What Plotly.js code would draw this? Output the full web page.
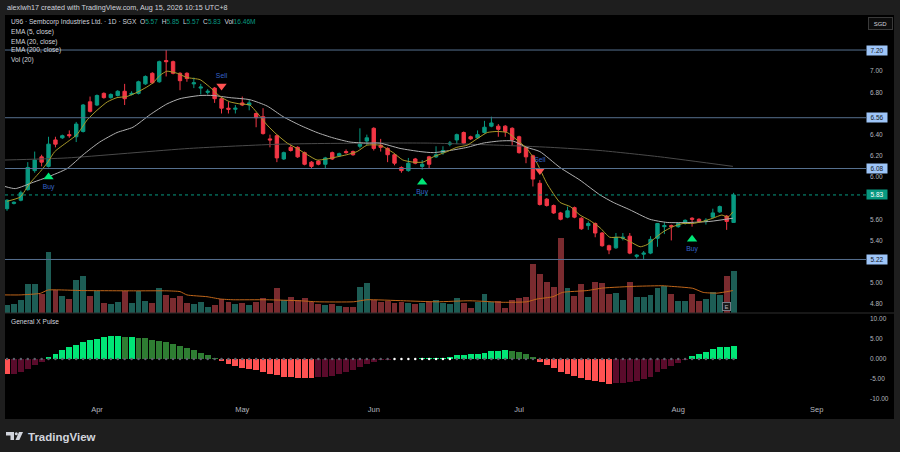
<!DOCTYPE html>
<html><head><meta charset="utf-8">
<script src="https://cdn.plot.ly/plotly-3.0.1.min.js"></script>
<style>html,body{margin:0;padding:0;background:#1e1e1e;}#chart{width:900px;height:452px;}</style>
</head><body><div id="chart"></div>
<script>
// ---------- DATA ----------
const monthTicks = [13,34,53,74,97,117];
const monthLabels = ['Apr','May','Jun','Jul','Aug','Sep'];
const priceTicks = [4.8,5.0,5.4,5.6,6.0,6.2,6.4,6.8,7.0];
const priceLabels = ['4.80','5.00','5.40','5.60','6.00','6.20','6.40','6.80','7.00'];
const pulseTicks = [10,5,0,-5,-10];
const pulseLabels = ['10.00','5.00','0.000','-5.00','-10.00'];
const levels = [7.20,6.56,6.08,5.22];
const levelLabels = ['7.20','6.56','6.08','5.22'];

const openP = [5.70,5.75,5.78,5.88,6.06,6.19,6.10,6.35,6.37,6.40,
6.38,6.43,6.71,6.68,6.79,6.75,6.77,6.81,6.78,6.79,
6.88,6.98,6.90,7.10,7.09,6.98,6.98,6.88,6.84,6.80,
6.84,6.74,6.65,6.64,6.70,6.68,6.60,6.57,6.36,6.39,
6.17,6.28,6.28,6.23,6.14,6.15,6.12,6.23,6.20,6.24,
6.24,6.29,6.34,6.46,6.30,6.27,6.21,6.09,6.06,6.17,
6.10,6.19,6.19,6.23,6.31,6.35,6.42,6.38,6.37,6.42,
6.48,6.48,6.48,6.46,6.38,6.28,6.20,5.94,5.79,5.73,
5.66,5.62,5.71,5.61,5.54,5.56,5.47,5.35,5.33,5.42,
5.44,5.25,5.27,5.28,5.42,5.53,5.54,5.53,5.56,5.61,
5.60,5.58,5.62,5.67,5.63,5.57];
const highP = [5.79,5.77,5.87,6.14,6.24,6.21,6.38,6.38,6.40,6.44,
6.52,6.69,6.76,6.78,6.80,6.79,6.82,6.88,6.81,6.91,
6.96,6.99,7.10,7.20,7.10,6.99,6.99,6.94,6.88,6.83,
6.85,6.75,6.71,6.68,6.76,6.73,6.61,6.65,6.40,6.40,
6.24,6.30,6.29,6.24,6.15,6.16,6.19,6.24,6.23,6.26,
6.25,6.46,6.40,6.47,6.36,6.28,6.22,6.10,6.18,6.18,
6.16,6.20,6.29,6.29,6.34,6.41,6.43,6.39,6.44,6.53,
6.57,6.50,6.49,6.47,6.39,6.29,6.21,5.97,5.80,5.74,
5.67,5.72,5.72,5.62,5.58,5.57,5.48,5.36,5.47,5.47,
5.47,5.27,5.30,5.44,5.56,5.57,5.55,5.57,5.60,5.62,
5.61,5.61,5.70,5.73,5.64,5.85];
const lowP = [5.68,5.74,5.77,5.87,6.04,6.10,6.09,6.28,6.36,6.37,
6.33,6.42,6.61,6.67,6.74,6.74,6.76,6.68,6.77,6.78,
6.87,6.88,6.89,6.95,6.97,6.82,6.90,6.84,6.78,6.78,
6.70,6.60,6.60,6.60,6.67,6.63,6.47,6.40,6.28,6.14,
6.16,6.24,6.18,6.11,6.08,6.11,6.08,6.16,6.19,6.22,
6.20,6.27,6.30,6.25,6.24,6.14,6.11,6.04,6.05,6.12,
6.07,6.08,6.18,6.21,6.29,6.31,6.31,6.35,6.36,6.41,
6.47,6.38,6.38,6.30,6.22,6.13,5.91,5.73,5.72,5.65,
5.59,5.61,5.61,5.50,5.50,5.43,5.34,5.27,5.32,5.40,
5.27,5.23,5.22,5.27,5.34,5.46,5.40,5.52,5.55,5.53,
5.57,5.55,5.61,5.66,5.50,5.57];
const closeP = [5.78,5.76,5.85,6.09,6.16,6.14,6.31,6.31,6.39,6.39,
6.50,6.68,6.62,6.77,6.75,6.78,6.81,6.74,6.79,6.90,
6.95,6.89,7.09,7.09,6.98,6.91,6.93,6.89,6.85,6.81,
6.74,6.65,6.64,6.65,6.68,6.70,6.56,6.41,6.35,6.18,
6.23,6.25,6.19,6.12,6.10,6.12,6.18,6.17,6.22,6.23,
6.21,6.31,6.37,6.27,6.28,6.21,6.13,6.06,6.13,6.13,
6.12,6.12,6.21,6.25,6.32,6.40,6.32,6.36,6.40,6.47,
6.51,6.45,6.43,6.35,6.23,6.19,5.98,5.74,5.73,5.66,
5.60,5.68,5.62,5.51,5.56,5.47,5.35,5.31,5.43,5.43,
5.28,5.26,5.28,5.41,5.56,5.54,5.53,5.56,5.59,5.60,
5.58,5.59,5.66,5.72,5.58,5.83];
const volumeM = [3.1,3.5,5.0,11.3,11.4,7.5,24.0,9.0,6.7,5.5,
12.9,14.4,6.5,8.7,3.8,3.4,4.2,8.6,3.8,8.8,
4.8,3.8,9.9,7.1,5.8,6.5,3.8,3.4,4.2,2.5,
3.0,5.5,4.4,3.4,3.8,3.1,4.2,6.0,3.8,9.7,
5.0,6.1,5.0,5.8,4.2,3.4,3.1,3.5,2.7,2.5,
2.2,10.1,11.8,5.0,4.4,4.8,4.0,4.4,4.0,3.5,
4.0,4.2,5.0,4.0,3.5,5.8,4.0,2.1,4.4,7.3,
4.2,4.8,2.1,5.1,6.0,6.4,19.1,15.3,12.3,10.2,
29.4,9.9,6.7,11.3,6.4,12.2,11.9,7.3,8.0,5.2,
12.0,6.4,6.1,7.1,9.7,10.7,7.6,4.8,4.8,7.5,
4.8,5.5,8.2,7.1,14.5,16.46];
const pulse = [-3.7,-3.7,-3.3,-2.5,-1.5,-0.7,0.5,1.3,2.25,2.9,
3.6,4.2,4.7,5.1,5.4,5.7,5.8,5.5,5.6,5.3,
5.2,4.75,4.5,4.3,3.75,3.2,2.7,2.2,1.6,1.0,
0.3,-0.5,-1.25,-1.75,-2.2,-2.6,-2.8,-3.25,-3.7,-4.1,
-4.5,-4.6,-4.65,-4.7,-4.72,-4.45,-4.4,-4.25,-3.8,-3.3,
-2.75,-2.1,-1.3,-0.85,-0.3,-0.15,0,-0.1,0,0,
0.15,0.2,0.25,0.35,0.5,0.9,0.9,1.2,1.25,1.6,
1.9,2.1,2.25,2.0,1.7,1.25,0.4,-0.7,-1.6,-2.3,
-3.25,-3.75,-4.25,-4.8,-5.25,-5.4,-5.8,-6.25,-6.0,-5.9,
-5.7,-5.4,-5.1,-4.4,-3.25,-2.5,-1.7,-0.9,-0.3,0.7,
1.2,1.75,2.4,2.9,2.9,3.25];
const squeezeBars = [56,57,58,59,60,61,62,63,64];

const ema5X = [0,1.9,3.3,4.8,5.9,6.9,8.7,10.1,11.6,13.0,14.5,15.9,17.3,18.8,20.2,21.1,22.1,23.1,24.6,26.0,27.9,29.3,30.8,32.2,33.7,35.1,36.1,37.6,39.0,40.5,41.9,43.4,44.8,46.2,47.7,49.1,50.6,52.0,53.9,55.8,57.2,58.7,60.1,61.6,63.6,65.0,66.5,67.9,69.4,70.8,72.3,73.7,75.1,76.6,78.0,79.9,81.4,82.8,84.2,85.7,87.1,88.6,90.0,91.5,92.5,93.6,94.8,96.2,97.7,99.1,100.6,102.0,103.3,104.2,104.9];
const ema5Y = [5.77,5.81,5.94,6.05,6.14,6.24,6.33,6.40,6.54,6.63,6.71,6.75,6.76,6.80,6.85,6.89,6.96,7.00,6.98,6.94,6.92,6.85,6.76,6.71,6.69,6.68,6.61,6.49,6.40,6.32,6.27,6.21,6.16,6.17,6.19,6.21,6.24,6.30,6.30,6.23,6.16,6.14,6.14,6.19,6.24,6.28,6.30,6.36,6.42,6.43,6.42,6.35,6.27,6.13,5.94,5.76,5.72,5.64,5.59,5.52,5.43,5.43,5.39,5.34,5.36,5.42,5.48,5.53,5.56,5.56,5.58,5.61,5.64,5.62,5.67];
const ema20X = [-0.3,1.2,3.8,5.9,8.7,11.0,13.4,15.9,18.2,20.7,23.1,25.0,27.9,29.8,32.2,35.1,37.6,39.9,42.3,44.8,47.1,49.6,52.0,53.9,56.8,59.7,61.6,64.0,66.5,68.8,71.2,73.1,75.1,77.0,79.9,82.8,85.7,87.6,90.0,92.9,95.4,98.7,101.6,104.9];
const ema20Y = [5.91,5.89,5.95,6.00,6.08,6.21,6.33,6.42,6.47,6.59,6.69,6.74,6.77,6.77,6.75,6.73,6.67,6.57,6.49,6.42,6.37,6.33,6.32,6.32,6.27,6.24,6.23,6.25,6.28,6.32,6.34,6.34,6.28,6.24,6.09,5.97,5.83,5.76,5.69,5.60,5.57,5.57,5.58,5.61];
const ema200X = [-0.3,8.7,26.4,39.5,52.0,61.1,71.2,78.5,85.7,94.4,104.9];
const ema200Y = [6.16,6.18,6.27,6.31,6.32,6.32,6.30,6.28,6.25,6.19,6.10];
const volMaX = [-0.3,1.9,4.8,5.9,11.0,18.3,23.1,25.0,26.0,28.9,30.8,32.7,37.5,42.3,44.8,50.1,52.0,57.3,62.1,66.9,71.7,75.1,76.6,78.9,80.3,83.8,86.1,91.0,94.8,95.8,99.1,100.6,102.6,104.9];
const volMaY = [7.1,7.1,7.7,9.0,8.8,8.7,8.7,8.4,7.1,6.4,5.5,5.2,5.2,4.8,4.4,4.4,5.2,4.8,4.4,4.8,4.2,4.4,5.5,6.4,8.1,8.8,9.8,10.5,10.7,10.5,9.7,8.1,7.8,8.8];

const sigIdx = [6,31,60,77,99];
const sigType = ['Buy','Sell','Buy','Sell','Buy'];
const sigPrice = [6.00,6.86,5.95,6.06,5.41];
const earningsIdx = 104;

// ---------- BUILD ----------
const W = 900, H = 452;
const px = v => v / W, py = v => 1 - v / H;
const UP = '#089981', DN = '#f23645';
const FONT = 'Liberation Sans, Arial, sans-serif';
const barIndex = openP.map((_, i) => i);
const last = closeP.length - 1;

const volColors = barIndex.map(i => closeP[i] >= openP[i] ? '#1d5d55' : '#7a2b2f');
const pulseColors = pulse.map((v, i) => {
  const prev = i > 0 ? pulse[i - 1] : null;
  if (v >= 0) return (prev === null || v >= prev) ? '#00e676' : '#2e7d32';
  return (prev === null || v < prev) ? '#ff5252' : '#5a0b2b';
});
const dotColors = barIndex.map(i => squeezeBars.includes(i) ? '#ffffff' : '#5d606b');

const traces = [
  {type:'bar', x:barIndex, y:volumeM, yaxis:'y3', xaxis:'x', marker:{color:volColors, line:{width:0}}, width:0.85, hoverinfo:'skip'},
  {type:'scatter', mode:'lines', x:volMaX, y:volMaY, yaxis:'y3', line:{color:'#c0661a', width:1, shape:'spline', smoothing:0.5}, hoverinfo:'skip'},
  {type:'candlestick', x:barIndex, open:openP, high:highP, low:lowP, close:closeP, xaxis:'x', yaxis:'y',
    increasing:{line:{color:UP, width:1}, fillcolor:UP},
    decreasing:{line:{color:DN, width:1}, fillcolor:DN}, whiskerwidth:0, hoverinfo:'skip'},
  {type:'scatter', mode:'lines', x:ema200X, y:ema200Y, yaxis:'y', line:{color:'#4a4a4a', width:1, shape:'spline', smoothing:0.6}, hoverinfo:'skip'},
  {type:'scatter', mode:'lines', x:ema20X, y:ema20Y, yaxis:'y', line:{color:'#b0b0b0', width:1, shape:'spline', smoothing:0.6}, hoverinfo:'skip'},
  {type:'scatter', mode:'lines', x:ema5X, y:ema5Y, yaxis:'y', line:{color:'#a8992a', width:1, shape:'spline', smoothing:0.5}, hoverinfo:'skip'},
  {type:'bar', x:barIndex, y:pulse, yaxis:'y2', marker:{color:pulseColors, line:{width:0}}, width:0.85, hoverinfo:'skip'},
  {type:'scatter', mode:'markers', x:barIndex, y:barIndex.map(() => 0), yaxis:'y2', marker:{color:dotColors, size:2.5}, hoverinfo:'skip'}
];

// signals
const buyI = sigIdx.map((v, k) => k).filter(k => sigType[k] === 'Buy');
const sellI = sigIdx.map((v, k) => k).filter(k => sigType[k] === 'Sell');
traces.push({type:'scatter', mode:'markers+text', x:buyI.map(k => sigIdx[k]), y:buyI.map(k => sigPrice[k]), yaxis:'y',
  marker:{symbol:'triangle-up', color:'#00e676', size:9}, text:buyI.map(k => sigType[k]), textposition:'bottom center',
  textfont:{color:'#3563c9', size:6.8, family:FONT}, hoverinfo:'skip', cliponaxis:false});
traces.push({type:'scatter', mode:'markers+text', x:sellI.map(k => sigIdx[k]), y:sellI.map(k => sigPrice[k]), yaxis:'y',
  marker:{symbol:'triangle-down', color:'#ff5252', size:9}, text:sellI.map(k => sigType[k]), textposition:'top center',
  textfont:{color:'#3563c9', size:6.8, family:FONT}, hoverinfo:'skip', cliponaxis:false});

const shapes = [
  {type:'rect', xref:'paper', yref:'paper', x0:px(5), x1:px(894), y0:py(419), y1:py(15), fillcolor:'#000000', line:{width:0}, layer:'below'},
  {type:'line', xref:'paper', yref:'paper', x0:px(5), x1:px(894), y0:py(313), y1:py(313), line:{color:'#2e2e2e', width:1}},
  {type:'line', xref:'paper', yref:'y', x0:px(5), x1:px(866), y0:closeP[last], y1:closeP[last], line:{color:UP, width:1, dash:'dot'}}
];
levels.forEach(l => shapes.push({type:'line', xref:'paper', yref:'y', x0:px(5), x1:px(866), y0:l, y1:l, line:{color:'#56708f', width:1}}));
// TradingView logo
shapes.push({type:'path', xref:'paper', yref:'paper', path:`M${px(6)},${py(432)} L${px(14)},${py(432)} L${px(14)},${py(440)} L${px(10.5)},${py(440)} L${px(10.5)},${py(435.5)} L${px(6)},${py(435.5)} Z`, fillcolor:'#d1d4dc', line:{width:0}});
shapes.push({type:'circle', xref:'paper', yref:'paper', x0:px(14.8), x1:px(17.8), y0:py(435.3), y1:py(432.3), fillcolor:'#d1d4dc', line:{width:0}});
shapes.push({type:'path', xref:'paper', yref:'paper', path:`M${px(19)},${py(432)} L${px(23)},${py(432)} L${px(19.3)},${py(440)} L${px(15.5)},${py(440)} Z`, fillcolor:'#d1d4dc', line:{width:0}});

const g = t => `<span style="color:${UP}">${t}</span>`;
const txt = (t, x, y, size, color, extra) => Object.assign({text:t, xref:'paper', yref:'paper', x:px(x), y:py(y), xanchor:'left', yanchor:'middle', showarrow:false, font:{size:size, color:color, family:FONT}}, extra || {});
const annotations = [
  txt('alexlwh17 created with TradingView.com, Aug 15, 2026 10:15 UTC+8', 5, 7.5, 7.2, '#d1d4dc'),
  txt(`U96 · Sembcorp Industries Ltd. · 1D · SGX  O${g(openP[last].toFixed(2))}  H${g(highP[last].toFixed(2))}  L${g(lowP[last].toFixed(2))}  C${g(closeP[last].toFixed(2))}  Vol${g(volumeM[last].toFixed(2) + 'M')}`, 9, 22.5, 6.6, '#d1d4dc'),
  txt('EMA (5, close)', 9, 32, 6.6, '#d1d4dc'),
  txt('EMA (20, close)', 9, 41.5, 6.6, '#d1d4dc'),
  txt('EMA (200, close)', 9, 50.5, 6.6, '#d1d4dc'),
  txt('Vol (20)', 9, 60, 6.6, '#d1d4dc'),
  txt('General X Pulse', 9, 321.5, 6.6, '#d1d4dc'),
  txt('<b>TradingView</b>', 26, 436.5, 11.5, '#d1d4dc'),
  {text:'SGD', xref:'paper', yref:'paper', x:px(880.5), y:py(23), xanchor:'center', yanchor:'middle', showarrow:false,
    font:{size:6, color:'#d1d4dc', family:FONT}, bgcolor:'#0c0c0c', bordercolor:'#3a3a3a', borderwidth:1, borderpad:1, width:21, height:9},
  {text:'E', xref:'x', yref:'y3', x:earningsIdx, y:2.7, xanchor:'center', yanchor:'middle', showarrow:false,
    font:{size:6, color:'#b2b5be', family:FONT}, bgcolor:'#1a1a1a', bordercolor:'#787b86', borderwidth:1, borderpad:0, width:7, height:7}
];
levels.forEach((l, k) => annotations.push({text:levelLabels[k], xref:'paper', yref:'y', x:px(866), y:l, xanchor:'left', yanchor:'middle', showarrow:false,
  font:{size:6.5, color:'#131722', family:FONT}, bgcolor:'#9ec5f8', borderpad:1, width:18, height:7}));
annotations.push({text:closeP[last].toFixed(2), xref:'paper', yref:'y', x:px(866), y:closeP[last], xanchor:'left', yanchor:'middle', showarrow:false,
  font:{size:6.5, color:'#ffffff', family:FONT}, bgcolor:UP, borderpad:1, width:18, height:7});

const layout = {
  width:W, height:H, margin:{l:0, r:0, t:0, b:0},
  paper_bgcolor:'#1e1e1e', plot_bgcolor:'rgba(0,0,0,0)', showlegend:false, bargap:0,
  font:{family:FONT, color:'#b2b5be'},
  xaxis:{domain:[px(5), px(865)], range:[-0.29, 123.99], anchor:'y2', tickvals:monthTicks, ticktext:monthLabels,
    showgrid:false, zeroline:false, showline:false, ticks:'', tickfont:{size:7.5, color:'#b2b5be'}, rangeslider:{visible:false}, fixedrange:true},
  yaxis:{domain:[py(313), py(15)], range:[4.714, 7.531], side:'right', anchor:'x', tickvals:priceTicks, ticktext:priceLabels,
    showgrid:false, zeroline:false, showline:false, ticks:'', ticklabelstandoff:4, tickfont:{size:6.5, color:'#b2b5be'}},
  yaxis3:{overlaying:'y', range:[0, 117], visible:false, anchor:'x'},
  yaxis2:{domain:[py(403), py(313)], range:[-11, 11.5], side:'right', anchor:'x', tickvals:pulseTicks, ticktext:pulseLabels,
    showgrid:false, zeroline:false, showline:false, ticks:'', ticklabelstandoff:4, tickfont:{size:6.5, color:'#b2b5be'}},
  shapes:shapes, annotations:annotations
};
Plotly.newPlot('chart', traces, layout, {staticPlot:true, displayModeBar:false});
</script>
</body></html>
